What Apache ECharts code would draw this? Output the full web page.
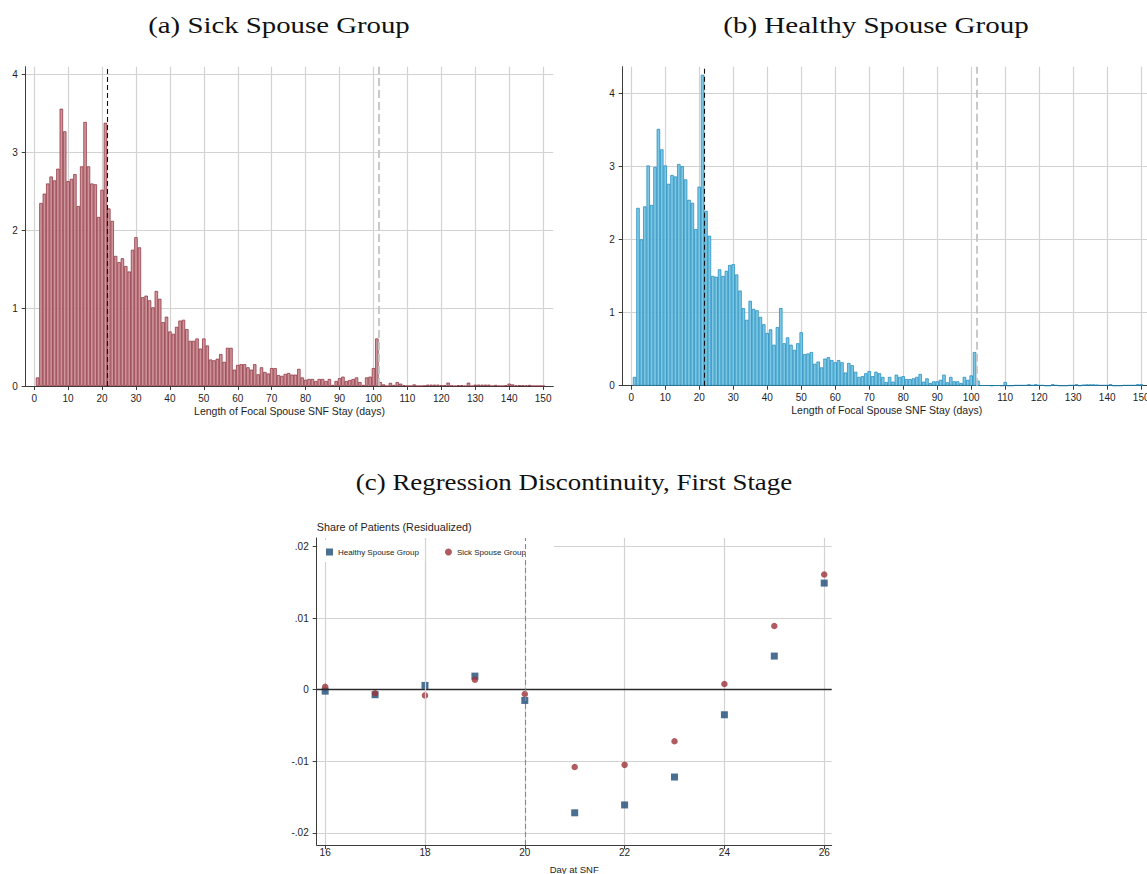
<!DOCTYPE html>
<html>
<head>
<meta charset="utf-8">
<script src="https://cdn.jsdelivr.net/npm/echarts@6/dist/echarts.min.js"></script>
<style>
html, body { margin: 0; padding: 0; background: #ffffff; }
#chart { width: 1147px; height: 874px; }
</style>
</head>
<body>
<div id="chart"></div>
<script>
// Length of stay in days (histogram bins, one per day)
const stayDays = [
  1, 2, 3, 4, 5, 6, 7, 8, 9, 10, 11, 12, 13, 14, 15, 16, 17, 18, 19, 20,
  21, 22, 23, 24, 25, 26, 27, 28, 29, 30, 31, 32, 33, 34, 35, 36, 37, 38, 39, 40,
  41, 42, 43, 44, 45, 46, 47, 48, 49, 50, 51, 52, 53, 54, 55, 56, 57, 58, 59, 60,
  61, 62, 63, 64, 65, 66, 67, 68, 69, 70, 71, 72, 73, 74, 75, 76, 77, 78, 79, 80,
  81, 82, 83, 84, 85, 86, 87, 88, 89, 90, 91, 92, 93, 94, 95, 96, 97, 98, 99, 100,
  101, 102, 103, 104, 105, 106, 107, 108, 109, 110, 111, 112, 113, 114, 115, 116, 117, 118, 119, 120,
  121, 122, 123, 124, 125, 126, 127, 128, 129, 130, 131, 132, 133, 134, 135, 136, 137, 138, 139, 140,
  141, 142, 143, 144, 145, 146, 147, 148, 149, 150
];

// Percent of stays by length, sick spouse group
const sickDensity = [
  0.11, 2.35, 2.47, 2.60, 2.69, 2.64, 2.79, 3.56, 3.27, 2.63,
  2.66, 2.72, 2.31, 2.82, 3.39, 2.82, 2.60, 2.59, 2.17, 2.52,
  3.38, 2.28, 2.12, 1.67, 1.59, 1.64, 1.54, 1.47, 1.75, 1.91,
  1.78, 1.14, 1.16, 1.10, 1.01, 1.22, 1.12, 0.82, 0.89, 0.70,
  0.67, 0.76, 0.84, 0.85, 0.73, 0.58, 0.58, 0.61, 0.48, 0.61,
  0.52, 0.34, 0.33, 0.35, 0.41, 0.31, 0.49, 0.49, 0.21, 0.27,
  0.28, 0.28, 0.24, 0.21, 0.28, 0.15, 0.24, 0.18, 0.16, 0.23,
  0.23, 0.14, 0.13, 0.155, 0.167, 0.146, 0.146, 0.22, 0.11, 0.08,
  0.09, 0.09, 0.064, 0.09, 0.09, 0.064, 0.09, 0.013, 0.064, 0.10,
  0.12, 0.064, 0.077, 0.09, 0.11, 0.05, 0.013, 0.11, 0.12, 0.23,
  0.61, 0.05, 0.02, 0, 0.04, 0.013, 0.05, 0.03, 0.01, 0,
  0, 0.02, 0, 0, 0.005, 0.017, 0.017, 0.017, 0.017, 0.01,
  0.01, 0.043, 0.005, 0, 0.01, 0.01, 0, 0.043, 0, 0.017,
  0.017, 0.017, 0.017, 0.017, 0, 0.013, 0, 0, 0.01, 0.03,
  0.02, 0.005, 0.01, 0.01, 0.005, 0.013, 0, 0, 0, 0
];

// Percent of stays by length, healthy spouse group
const healthyDensity = [
  0.12, 2.43, 2.00, 2.45, 3.01, 2.47, 2.99, 3.51, 3.23, 3.01,
  2.76, 2.88, 2.86, 3.03, 3.00, 2.82, 2.54, 2.50, 2.14, 2.72,
  4.25, 2.39, 2.05, 1.50, 1.49, 1.59, 1.50, 1.57, 1.65, 1.66,
  1.52, 1.30, 1.06, 0.90, 1.16, 1.05, 1.03, 0.94, 0.84, 0.72,
  0.77, 0.56, 0.80, 1.06, 0.58, 0.66, 0.56, 0.49, 0.58, 0.73,
  0.43, 0.44, 0.46, 0.30, 0.33, 0.25, 0.37, 0.39, 0.35, 0.32,
  0.35, 0.32, 0.18, 0.31, 0.28, 0.19, 0.12, 0.13, 0.17, 0.20,
  0.13, 0.19, 0.17, 0.12, 0.05, 0.12, 0.055, 0.15, 0.12, 0.13,
  0.09, 0.09, 0.10, 0.12, 0.16, 0.055, 0.10, 0.036, 0.06, 0.06,
  0.08, 0.15, 0.046, 0.12, 0.06, 0.06, 0.036, 0.12, 0.08, 0.14,
  0.46, 0.07, 0.005, 0.005, 0.005, 0, 0.005, 0.005, 0, 0.05,
  0, 0, 0.01, 0.01, 0.01, 0.01, 0.02, 0.01, 0.02, 0.01,
  0.01, 0, 0, 0.02, 0.01, 0, 0, 0, 0.01, 0.01,
  0.02, 0, 0.015, 0.018, 0.018, 0.018, 0.015, 0.01, 0.01, 0.01,
  0.02, 0, 0, 0, 0.01, 0.01, 0.01, 0.01, 0.02, 0.02
];

// Reference lines on the histograms (day 21 and day 101 thresholds)
const histCutoffs = [21.5, 101.5];

// Histogram axis ticks
const histXTicks = [0, 10, 20, 30, 40, 50, 60, 70, 80, 90, 100, 110, 120, 130, 140, 150];
const histYTicks = [0, 1, 2, 3, 4];

// Regression discontinuity, first stage
const rdDays = [16, 17, 18, 19, 20, 21, 22, 23, 24, 25, 26];
const rdHealthy = [-0.0002, -0.0007, 0.0006, 0.0019, -0.0015, -0.0172, -0.0161, -0.0122, -0.0035, 0.0047, 0.0149];
const rdSick = [0.0004, -0.0005, -0.0008, 0.0014, -0.0006, -0.0108, -0.0105, -0.0072, 0.0008, 0.0089, 0.0161];
const rdCutoff = 20;
const rdXTicks = [16, 18, 20, 22, 24, 26];
const rdYTicks = [-0.02, -0.01, 0, 0.01, 0.02];

const SANS = 'Liberation Sans, Arial, Helvetica, sans-serif';
const SERIF = 'Liberation Serif, Times New Roman, serif';
const AXIS_COLOR = '#3c3c3c';
const GRID_COLOR = '#d2d2d2';
const TEXT_COLOR = '#1e1e1e';

function pairs(xs, ys) { return xs.map((x, i) => [x, ys[i]]); }

function fmtShare(v) {
  if (Math.abs(v) < 1e-12) return '0';
  const s = Math.abs(v).toFixed(2).replace(/^0/, '');
  return (v < 0 ? '-' : '') + s;
}

function valueAxis(gridIndex, min, max, ticks, extra) {
  return Object.assign({
    type: 'value', gridIndex: gridIndex, min: min, max: max,
    axisLine: { show: true, onZero: false, lineStyle: { color: AXIS_COLOR, width: 1 } },
    axisTick: { show: true, length: 4, customValues: ticks, lineStyle: { color: AXIS_COLOR, width: 1 } },
    axisLabel: { customValues: ticks, fontFamily: SANS, fontSize: 10, color: TEXT_COLOR, margin: 7 },
    splitLine: { show: true, lineStyle: { color: GRID_COLOR, width: 1.2 } }
  }, extra || {});
}

function histXAxis(gridIndex, max) {
  return valueAxis(gridIndex, -2.5, max, histXTicks, {
    name: 'Length of Focal Spouse SNF Stay (days)',
    nameLocation: 'middle', nameGap: 19,
    nameTextStyle: { fontFamily: SANS, fontSize: 10.5, color: TEXT_COLOR }
  });
}

function histYAxis(gridIndex, max) {
  return valueAxis(gridIndex, 0, max, histYTicks, {
    axisLabel: { customValues: histYTicks, fontFamily: SANS, fontSize: 10, color: TEXT_COLOR, margin: 8 }
  });
}

function histSeries(name, idx, data, fill, stroke) {
  return {
    name: name, type: 'bar', xAxisIndex: idx, yAxisIndex: idx,
    data: pairs(stayDays, data),
    barWidth: '100%',
    itemStyle: { color: fill, borderColor: stroke, borderWidth: 0.7 },
    silent: true,
    markLine: {
      silent: true, symbol: 'none', label: { show: false },
      data: [
        { xAxis: histCutoffs[0], lineStyle: { color: '#111111', type: [5, 3], width: 1.1 } },
        { xAxis: histCutoffs[1], lineStyle: { color: '#c4c4c4', type: [8, 4], width: 1.8 } }
      ]
    }
  };
}

// Panel headings (serif, widened to the heading face proportions)
function heading(text, x, y, sx) {
  return {
    type: 'text', x: x, y: y, scaleX: sx, scaleY: 1,
    style: { text: text, fontFamily: SERIF, fontSize: 24, fill: '#111111', align: 'center', verticalAlign: 'middle' }
  };
}

const chart = echarts.init(document.getElementById('chart'), null, { renderer: 'svg' });

chart.setOption({
  animation: false,
  backgroundColor: '#ffffff',
  graphic: [
    heading('(a) Sick Spouse Group', 279, 25, 1.2),
    heading('(b) Healthy Spouse Group', 876, 25, 1.21),
    heading('(c) Regression Discontinuity, First Stage', 574, 482, 1.12)
  ],
  legend: {
    data: [
      { name: 'Healthy Spouse Group', icon: 'rect' },
      { name: 'Sick Spouse Group', icon: 'circle' }
    ],
    left: 318, top: 540,
    padding: [8, 28, 6, 8],
    itemWidth: 7, itemHeight: 7, itemGap: 26,
    backgroundColor: '#ffffff',
    textStyle: { fontFamily: SANS, fontSize: 8, color: TEXT_COLOR }
  },
  grid: [
    { left: 25.7, top: 66.7, width: 527.6, height: 319.3, outerBoundsMode: 'none' },
    { left: 622.7, top: 66.7, width: 528, height: 319, outerBoundsMode: 'none' },
    { left: 316.7, top: 538, width: 515, height: 307, outerBoundsMode: 'none' }
  ],
  xAxis: [
    histXAxis(0, 153),
    histXAxis(1, 152.8),
    valueAxis(2, 15.83, 26.15, rdXTicks, {
      axisLabel: { customValues: rdXTicks, fontFamily: SANS, fontSize: 10, color: TEXT_COLOR, margin: 2 },
      name: 'Day at SNF', nameLocation: 'middle', nameGap: 19,
      nameTextStyle: { fontFamily: SANS, fontSize: 9.5, color: TEXT_COLOR }
    })
  ],
  yAxis: [
    histYAxis(0, 4.1),
    histYAxis(1, 4.36),
    valueAxis(2, -0.0217, 0.0212, rdYTicks, {
      axisLabel: { customValues: rdYTicks, formatter: fmtShare, fontFamily: SANS, fontSize: 10, color: TEXT_COLOR, margin: 8 },
      name: 'Share of Patients (Residualized)', nameLocation: 'end', nameGap: 6,
      nameTextStyle: { fontFamily: SANS, fontSize: 10.8, color: TEXT_COLOR, align: 'left', verticalAlign: 'bottom' }
    })
  ],
  series: [
    histSeries('Sick histogram', 0, sickDensity, '#cd949a', '#8a2a36'),
    histSeries('Healthy histogram', 1, healthyDensity, '#7cc8e4', '#1787bb'),
    {
      name: 'Healthy Spouse Group', type: 'scatter', xAxisIndex: 2, yAxisIndex: 2,
      data: pairs(rdDays, rdHealthy), symbol: 'rect', symbolSize: 7,
      itemStyle: { color: '#1d4b77' }, z: 3,
      markLine: {
        silent: true, symbol: 'none', label: { show: false }, z: 6,
        data: [
          { yAxis: 0, lineStyle: { color: '#2a2a2a', type: 'solid', width: 1.3 } },
          { xAxis: 18, lineStyle: { color: GRID_COLOR, type: 'solid', width: 1.2 } },
          { xAxis: rdCutoff, lineStyle: { color: '#8a8a8a', type: [5, 3], width: 1.1 } }
        ]
      }
    },
    {
      name: 'Sick Spouse Group', type: 'scatter', xAxisIndex: 2, yAxisIndex: 2,
      data: pairs(rdDays, rdSick), symbol: 'circle', symbolSize: 6.5,
      itemStyle: { color: '#9b3238' }, z: 4
    }
  ]
});
</script>
</body>
</html>
